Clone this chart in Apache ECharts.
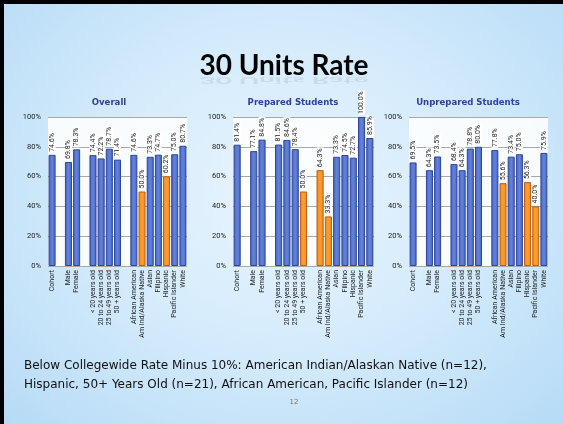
<!DOCTYPE html>
<html>
<head>
<meta charset="utf-8">
<script src="https://cdn.jsdelivr.net/npm/echarts@6/dist/echarts.min.js"></script>
<style>
html,body{margin:0;padding:0;}
#wrap{position:absolute;left:0;top:0;width:563px;height:424px;box-sizing:border-box;border-top:4px solid #000;border-left:4px solid #000;
background:radial-gradient(ellipse at 50% 45%, #e8f4fe 0%, #d6ecfc 45%, #b6dbf6 100%);}
#main{position:absolute;left:-4px;top:-4px;width:563px;height:424px;}
</style>
</head>
<body>
<div id="wrap"><div id="main"></div></div>
<script>
// ---- data ----
const categories = ['Cohort','','Male','Female','','< 20 years old','20 to 24 years old','25 to 49 years old','50 + years old','',
  'African American','Am Ind/Alaska Native','Asian','Filipino','Hispanic','Pacific Islander','White'];
const overall    = [74.6,null,69.8,78.3,null,74.4,72.2,78.7,71.4,null,74.6,50.0,73.3,74.7,60.2,75.0,80.7];
const prepared   = [81.4,null,77.1,84.8,null,81.5,84.6,78.4,50.0,null,64.3,33.3,73.3,74.5,72.7,100.0,85.9];
const unprepared = [69.5,null,64.3,73.5,null,68.4,64.3,78.8,80.0,null,77.8,55.6,73.4,75.0,56.3,40.0,75.9];
const overallBelow    = ['Am Ind/Alaska Native','Hispanic'];
const preparedBelow   = ['50 + years old','African American','Am Ind/Alaska Native'];
const unpreparedBelow = ['Am Ind/Alaska Native','Hispanic','Pacific Islander'];
const chartTitles = ['Overall','Prepared Students','Unprepared Students'];
const yTicks = [0,20,40,60,80,100];
const mainTitle = '30 Units Rate';
const footLines = ['Below Collegewide Rate Minus 10%: American Indian/Alaskan Native (n=12),',
  'Hispanic, 50+ Years Old (n=21), African American, Pacific Islander (n=12)'];
const slideNumber = '12';

// ---- styles ----
const blueFill = {type:'linear',x:0,y:0,x2:1,y2:0,colorStops:[{offset:0,color:'#4563c4'},{offset:0.5,color:'#6483db'},{offset:1,color:'#4563c4'}]};
const orangeFill = {type:'linear',x:0,y:0,x2:1,y2:0,colorStops:[{offset:0,color:'#f38a17'},{offset:0.5,color:'#fa9d35'},{offset:1,color:'#f38a17'}]};
const grids = [
  {left:48, right:376, top:117, bottom:158},
  {left:233, right:189, top:117, bottom:158},
  {left:409, right:15, top:117, bottom:158}
];
const titleLefts = [104, 288, 463];

function buildData(vals, below){
  return vals.map((v,i)=>{
    if(v===null) return '-';
    const hi = below.indexOf(categories[i])>=0;
    return {value:v, itemStyle:{color: hi?orangeFill:blueFill, borderColor: hi?'#b8600f':'#2d4797', borderWidth:1}};
  });
}
const sets = [[overall,overallBelow],[prepared,preparedBelow],[unprepared,unpreparedBelow]];

const option = {
  animation:false,
  backgroundColor:'transparent',
  title: chartTitles.map((t,i)=>({text:t,left:titleLefts[i],top:93,textAlign:'center',
    textStyle:{fontFamily:'DejaVu Sans Condensed, DejaVu Sans',fontWeight:'bold',fontSize:9.5,color:'#2e3f9d'}})),
  grid: grids.map(g=>Object.assign({show:true,borderWidth:0,backgroundColor:'rgba(255,255,255,0.85)'},g)),
  xAxis: grids.map((g,i)=>({type:'category',gridIndex:i,data:categories,
    axisLine:{show:false},axisTick:{show:false},
    axisLabel:{interval:0,rotate:90,fontSize:7,fontFamily:'Roboto',color:'#222',margin:4}})),
  yAxis: grids.map((g,i)=>({type:'value',gridIndex:i,min:yTicks[0],max:yTicks[yTicks.length-1],interval:20,
    axisLine:{show:false},axisTick:{show:false},
    axisLabel:{formatter:'{value}%',fontSize:7.5,fontFamily:'Roboto',color:'#222',margin:7},
    splitLine:{lineStyle:{color:'#a8a8a8',width:1}}})),
  series: sets.map((s,i)=>({type:'bar',xAxisIndex:i,yAxisIndex:i,data:buildData(s[0],s[1]),
    barCategoryGap:'14%',
    label:{show:true,position:'top',rotate:90,align:'left',verticalAlign:'middle',distance:2,
      fontSize:7,fontFamily:'Roboto',color:'#222',backgroundColor:'#fff',padding:[0,1],
      formatter:p=>p.value.toFixed(1)+'%'}})),
  graphic:[
    {type:'text',x:284,y:75,scaleY:-0.35,silent:true,style:{text:mainTitle,font:'bold 28px Lato',fill:'rgba(0,0,0,0.08)',textAlign:'center',textVerticalAlign:'bottom'}},
    {type:'text',x:284,y:52,style:{text:mainTitle,font:'bold 28px Lato',fill:'#000',textAlign:'center',textVerticalAlign:'top'}},
    {type:'text',x:24,y:366,style:{text:footLines[0],font:'12px DejaVu Sans',fill:'#111',textVerticalAlign:'middle'}},
    {type:'text',x:24,y:385,style:{text:footLines[1],font:'12px DejaVu Sans',fill:'#111',textVerticalAlign:'middle'}},
    {type:'text',x:294,y:402,style:{text:slideNumber,font:'7px DejaVu Sans',fill:'#777',textAlign:'center',textVerticalAlign:'middle'}}
  ]
};
const chart = echarts.init(document.getElementById('main'));
chart.setOption(option);
</script>
</body>
</html>
